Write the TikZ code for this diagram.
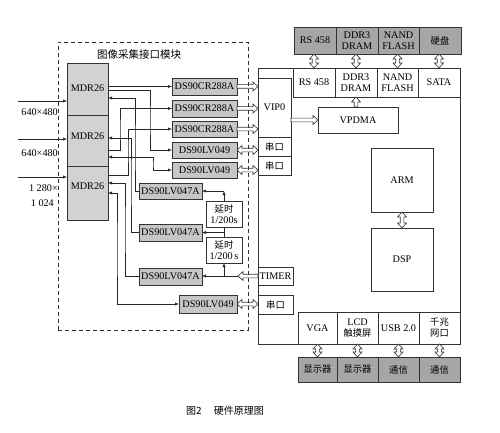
\documentclass[tikz,border=0pt]{standalone}
\usepackage{fontspec}
\setmainfont{Liberation Serif}
\newfontfamily\cjk{Noto Sans CJK SC}
\usetikzlibrary{calc,arrows.meta}
\newcommand{\rsz}{\fontsize{10.2}{11}\selectfont}
\newcommand{\csz}{\cjk\fontsize{9.3}{11}\selectfont}
\newcommand{\arsw}{1.8pt}
\newcommand{\arhw}{4.5pt}
\newcommand{\arhl}{5pt}
\newcommand{\bx}[7]{\node[#6,minimum width={#4-#2},minimum height={#5-#3}] (#1) at ({(#2+#4)/2},{(#3+#5)/2}) {#7};}
\newcommand{\hArr}[2]{\draw[hol] let \p1=(#1),\p2=(#2),\n1={sign(\x2-\x1)} in
 (\x1,{\y1+\arsw}) -- ({\x2-(\n1)*\arhl},{\y1+\arsw}) -- ({\x2-(\n1)*\arhl},{\y1+\arhw}) -- (\x2,\y1)
 -- ({\x2-(\n1)*\arhl},{\y1-\arhw}) -- ({\x2-(\n1)*\arhl},{\y1-\arsw}) -- (\x1,{\y1-\arsw}) -- cycle;}
\newcommand{\hDbl}[2]{\draw[hol] let \p1=(#1),\p2=(#2),\n1={sign(\x2-\x1)} in
 (\x1,\y1) -- ({\x1+(\n1)*\arhl},{\y1+\arhw}) -- ({\x1+(\n1)*\arhl},{\y1+\arsw}) -- ({\x2-(\n1)*\arhl},{\y1+\arsw})
 -- ({\x2-(\n1)*\arhl},{\y1+\arhw}) -- (\x2,\y1) -- ({\x2-(\n1)*\arhl},{\y1-\arhw}) -- ({\x2-(\n1)*\arhl},{\y1-\arsw})
 -- ({\x1+(\n1)*\arhl},{\y1-\arsw}) -- ({\x1+(\n1)*\arhl},{\y1-\arhw}) -- cycle;}
\newcommand{\vArr}[2]{\draw[hol] let \p1=(#1),\p2=(#2),\n1={sign(\y2-\y1)} in
 ({\x1+\arsw},\y1) -- ({\x1+\arsw},{\y2-(\n1)*\arhl}) -- ({\x1+\arhw},{\y2-(\n1)*\arhl}) -- (\x1,\y2)
 -- ({\x1-\arhw},{\y2-(\n1)*\arhl}) -- ({\x1-\arsw},{\y2-(\n1)*\arhl}) -- ({\x1-\arsw},\y1) -- cycle;}
\newcommand{\vDbl}[2]{\draw[hol] let \p1=(#1),\p2=(#2),\n1={sign(\y2-\y1)} in
 (\x1,\y1) -- ({\x1+\arhw},{\y1+(\n1)*\arhl}) -- ({\x1+\arsw},{\y1+(\n1)*\arhl}) -- ({\x1+\arsw},{\y2-(\n1)*\arhl})
 -- ({\x1+\arhw},{\y2-(\n1)*\arhl}) -- (\x1,\y2) -- ({\x1-\arhw},{\y2-(\n1)*\arhl}) -- ({\x1-\arsw},{\y2-(\n1)*\arhl})
 -- ({\x1-\arsw},{\y1+(\n1)*\arhl}) -- ({\x1-\arhw},{\y1+(\n1)*\arhl}) -- cycle;}
\begin{document}
\begin{tikzpicture}[x=1pt,y=-1pt,
  wbox/.style={draw=black!80,line width=0.7pt,fill=white,inner sep=0pt,outer sep=0pt,align=center,font=\rsz,text=black},
  gbox/.style={wbox,fill=gray!45},
  dbox/.style={wbox,fill=gray!70},
  mbox/.style={wbox,fill=gray!35},
  dashbox/.style={draw=black!80,line width=0.7pt,dash pattern=on 4pt off 3pt,inner sep=0pt,outer sep=0pt},
  txt/.style={inner sep=0pt,font=\rsz,text=black},
  ln/.style={line width=0.6pt,draw=black!85},
  arr/.style={ln,-{Latex[length=4pt,width=3.2pt]}},
  darr/.style={ln,{Latex[length=4pt,width=3.2pt]}-{Latex[length=4pt,width=3.2pt]}},
  hol/.style={draw=black!80,fill=white,line width=0.6pt,line join=miter}]
\fill[white] (0,0) rectangle (500,433);
\useasboundingbox (0,0) rectangle (500,433);

% title of module
\node[txt,font=\cjk\fontsize{10.5}{12}\selectfont] (title) at (139,55) {图像采集接口模块};

% MDR26 connectors
\bx{mdr1}{67}{63}{108}{115}{mbox}{}
\bx{mdr2}{67}{115}{108}{166}{mbox}{}
\bx{mdr3}{67}{166}{108}{220}{mbox}{}
\node[txt] (mdr1t) at (87.5,88) {MDR26};
\node[txt] (mdr2t) at (87.5,136) {MDR26};
\node[txt] (mdr3t) at (87.5,186) {MDR26};

% inputs
\coordinate (in1) at (18,101);
\coordinate (in2) at (18,139);
\coordinate (in3) at (18,177);
\draw[arr] (in1) -- (in1 -| mdr1.west);
\draw[arr] (in2) -- (in2 -| mdr2.west);
\draw[arr] (in3) -- (in3 -| mdr3.west);
\node[txt,anchor=east] (l1) at (58,112) {640×480};
\node[txt,anchor=east] (l2) at (58,153) {640×480};
\node[txt,anchor=east] (l3) at (58,188) {1 280×};
\node[txt,anchor=east] (l4) at (54,203) {1 024};

% interface chips
\bx{cr1}{172}{78}{237}{95}{gbox}{DS90CR288A}
\bx{cr2}{172}{100}{237}{117}{gbox}{DS90CR288A}
\bx{cr3}{172}{121}{237}{137}{gbox}{DS90CR288A}
\bx{lv1}{172}{142}{237}{158}{gbox}{DS90LV049}
\bx{lv2}{172}{162}{237}{178}{gbox}{DS90LV049}
\bx{d47a}{139}{183}{202}{199}{gbox}{DS90LV047A}
\bx{d47b}{139}{224}{202}{241}{gbox}{DS90LV047A}
\bx{d47c}{139}{268}{202}{285}{gbox}{DS90LV047A}
\bx{lv3}{179}{295}{237}{313}{gbox}{DS90LV049}
\bx{dl1}{206}{201}{242}{227}{wbox}{{\csz 延时}\\1/200s}
\bx{dl2}{206}{237}{242}{263}{wbox}{{\csz 延时}\\1/200\,s}

% wiring MDR26 <-> chips
\draw[arr] (mdr1.east |- cr1.west) -- (cr1.west);
\draw[arr] ([yshift=-27pt]mdr1.north east) -| (150,120) |- (lv1.west);
\draw[arr] (d47a.west) -| (135,150) |- ([yshift=-35pt]mdr1.north east);
\draw[arr] ([yshift=-35pt]mdr2.north east) -| (120,130) |- (cr2.west);
\draw[arr] (d47b.west) -| (131,180) |- ([yshift=-23pt]mdr2.north east);
\draw[darr] ([yshift=-42pt]mdr2.north east) -| (153,165) |- (lv2.west);
\draw[arr] ([yshift=-9pt]mdr3.north east) -| (128,150) |- (cr3.west);
\draw[arr] (d47c.west) -| (125,230) |- ([yshift=-17pt]mdr3.north east);
\draw[darr] ([yshift=-27pt]mdr3.north east) -| (117,250) |- (lv3.west);

% processor
\bx{soc}{258}{68}{460}{344}{wbox}{}
\bx{vip}{258}{78}{291}{137}{wbox}{VIP0}
\bx{sk1}{258}{137}{291}{156}{wbox}{{\csz 串口}}
\bx{sk2}{258}{156}{291}{175}{wbox}{{\csz 串口}}
\bx{timer}{258}{267}{293}{285}{wbox}{TIMER}
\bx{sk3}{258}{295}{293}{314}{wbox}{{\csz 串口}}
\bx{rs}{293}{68}{335}{97}{wbox}{RS 458}
\bx{ddr}{335}{68}{377}{97}{wbox}{DDR3\\DRAM}
\bx{nand}{377}{68}{418}{97}{wbox}{NAND\\FLASH}
\bx{sata}{418}{68}{460}{97}{wbox}{SATA}
\bx{rsx}{294}{27}{336}{54}{dbox}{RS 458}
\bx{ddrx}{336}{27}{378}{54}{dbox}{DDR3\\DRAM}
\bx{nandx}{378}{27}{419}{54}{dbox}{NAND\\FLASH}
\bx{hdd}{419}{27}{461}{54}{dbox}{{\csz 硬盘}}
\bx{vpdma}{318}{107}{398}{133}{wbox}{VPDMA}
\bx{arm}{371}{148}{433}{212}{wbox}{ARM}
\bx{dsp}{371}{228}{433}{291}{wbox}{DSP}
\bx{vga}{298}{312}{337}{344}{wbox}{VGA}
\bx{lcd}{337}{312}{378}{344}{wbox}{LCD\\{\csz 触摸屏}}
\bx{usb}{378}{312}{419}{344}{wbox}{USB 2.0}
\bx{gbe}{419}{312}{460}{344}{wbox}{{\csz 千兆}\\{\csz 网口}}
\bx{mon1}{298}{357}{337}{382}{dbox}{{\csz 显示器}}
\bx{mon2}{337}{357}{378}{382}{dbox}{{\csz 显示器}}
\bx{com1}{378}{357}{419}{382}{dbox}{{\csz 通信}}
\bx{com2}{419}{357}{460}{382}{dbox}{{\csz 通信}}

% delay / timer wiring
\draw[arr] (dl1.north) -- (dl1.north |- d47a.east);
\draw[arr] (dl1.north |- d47a.east) -- (d47a.east);
\draw[ln] (dl2.north) -- (dl1.south);
\draw[arr] (dl1.south |- d47b.east) -- (d47b.east);
\coordinate (tj) at ([xshift=-20pt]timer.west);
\hArr{timer.west}{tj}
\draw[arr] (tj) -- (tj -| d47c.east);
\draw[arr] (dl2.south |- tj) -- (dl2.south);

% hollow bus arrows
\hArr{cr1.east}{vip.west |- cr1.east}
\hArr{cr2.east}{vip.west |- cr2.east}
\hArr{cr3.east}{vip.west |- cr3.east}
\hDbl{lv1.east}{sk1.west |- lv1.east}
\hDbl{lv2.east}{sk2.west |- lv2.east}
\hDbl{lv3.east}{sk3.west |- lv3.east}
\hArr{vip.east |- vpdma.west}{vpdma.west}
\vArr{vpdma.north -| ddr.south}{ddr.south}
\vDbl{rs.north}{rs.north |- rsx.south}
\vDbl{ddr.north}{ddr.north |- ddrx.south}
\vDbl{nand.north}{nand.north |- nandx.south}
\vDbl{sata.north}{sata.north |- hdd.south}
\vDbl{arm.south}{dsp.north}
\vDbl{vga.south}{mon1.north}
\vDbl{lcd.south}{mon2.north}
\vDbl{usb.south}{com1.north}
\vDbl{gbe.south}{com2.north}

% module frame
\bx{module}{58}{42}{248}{330}{dashbox}{}

% caption
\node[txt,font=\cjk\fontsize{10}{12}\selectfont] (cap) at (225,411) {图2\hspace{1.2em}硬件原理图};
\end{tikzpicture}
\end{document}
